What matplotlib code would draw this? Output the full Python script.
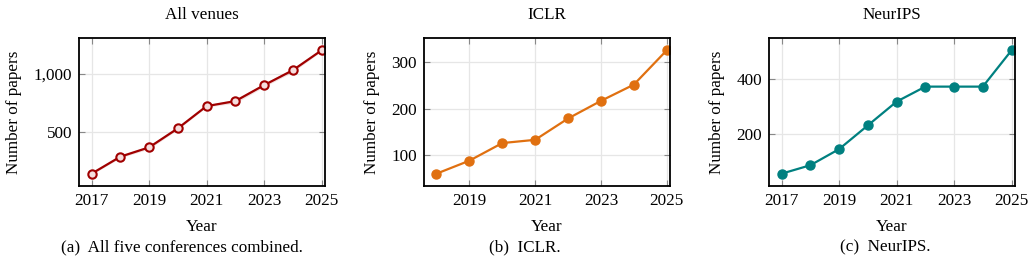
import numpy as np
import matplotlib.pyplot as plt
from matplotlib import ticker

# data
years_all = [2017, 2018, 2019, 2020, 2021, 2022, 2023, 2024, 2025]
papers_all = [140, 286, 366, 529, 720, 763, 900, 1028, 1199]
band_all = [8, 10, 14, 10, 8, 18, 14, 16, 8]

years_iclr = [2018, 2019, 2020, 2021, 2022, 2023, 2024, 2025]
papers_iclr = [60, 88, 126, 133, 179, 217, 252, 326]

years_neurips = [2017, 2018, 2019, 2020, 2021, 2022, 2023, 2024, 2025]
papers_neurips = [54, 85, 144, 231, 318, 373, 373, 373, 506]

titles = ["All venues", "ICLR", "NeurIPS"]
captions = ["(a)  All five conferences combined.", "(b)  ICLR.", "(c)  NeurIPS."]

plt.rcParams['font.family'] = ['Liberation Serif', 'DejaVu Serif']
FS = 12.3

W, H = 1034, 270
fig = plt.figure(figsize=(W / 100, H / 100), dpi=100)

lefts = [79, 424, 769]
caption_x = [181.5, 525, 885]
ax_w = 246
ax_top, ax_bot = 38, 186


def style(ax, xt, yt):
    ax.grid(True, color='#e6e6e6', linewidth=0.9)
    ax.set_axisbelow(True)
    for s in ax.spines.values():
        s.set_linewidth(1.3)
    ax.tick_params(direction='in', length=4, width=0.8, color='#888888',
                   top=True, right=True, labelsize=FS, pad=5)
    ax.set_xticks(xt)
    ax.set_yticks(yt)
    ax.set_xlabel("Year", fontsize=FS, labelpad=7)
    ax.set_ylabel("Number of papers", fontsize=FS, labelpad=8)


def ylims(vals):
    lo, hi = min(vals), max(vals)
    r = hi - lo
    return lo - 0.1 * r, hi + 0.1 * r


axes = []
for l in lefts:
    ax = fig.add_axes([l / W, (H - ax_bot) / H, ax_w / W, (ax_bot - ax_top) / H])
    axes.append(ax)

# (a) all venues
ax = axes[0]
red = '#a00000'
lo = [p - b for p, b in zip(papers_all, band_all)]
hi = [p + b for p, b in zip(papers_all, band_all)]
ax.fill_between(years_all, lo, hi, color=red, alpha=0.12, linewidth=0)
ax.plot(years_all, papers_all, color=red, lw=1.6, marker='o', ms=6,
        mfc='#f6dede', mec=red, mew=1.5)
ax.set_xlim(2016.56, 2025.12)
ax.set_ylim(*ylims(papers_all))
style(ax, [2017, 2019, 2021, 2023, 2025], [500, 1000])
ax.yaxis.set_major_formatter(ticker.FuncFormatter(lambda v, p: f"{int(v):,}"))

# (b) ICLR
ax = axes[1]
orange = '#e07010'
ax.plot(years_iclr, papers_iclr, color=orange, lw=1.6, marker='o', ms=6.5)
ax.set_xlim(2017.62, 2025.1)
ax.set_ylim(*ylims(papers_iclr))
style(ax, [2019, 2021, 2023, 2025], [100, 200, 300])

# (c) NeurIPS
ax = axes[2]
teal = '#008080'
ax.plot(years_neurips, papers_neurips, color=teal, lw=1.6, marker='o', ms=6.5)
ax.set_xlim(2016.56, 2025.12)
ax.set_ylim(*ylims(papers_neurips))
style(ax, [2017, 2019, 2021, 2023, 2025], [200, 400])

for ax, t, c, cx in zip(axes, titles, captions, caption_x):
    ax.set_title(t, fontsize=FS, pad=14)
    fig.text(cx / W, (H - 247) / H, c, ha='center', va='center', fontsize=FS)

fig.savefig("out.png", dpi=100)
